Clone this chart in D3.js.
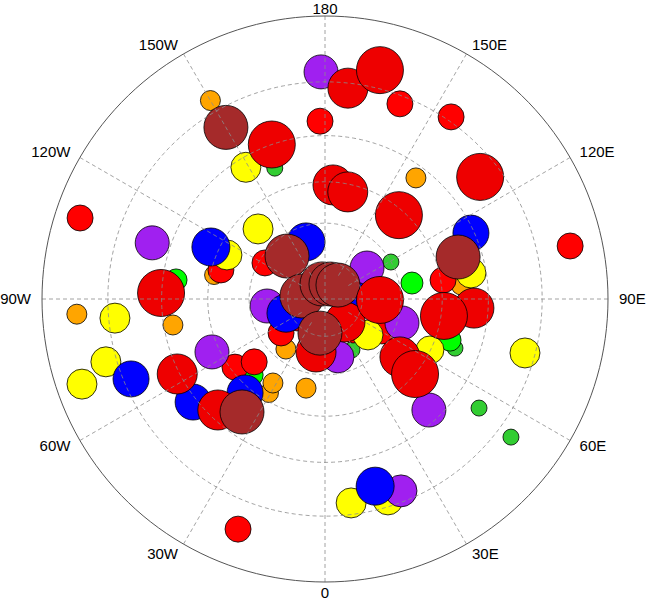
<!DOCTYPE html>
<html>
<head>
<meta charset="utf-8">
<script src="https://cdn.jsdelivr.net/npm/d3@7"></script>
<style>
  html, body { margin: 0; padding: 0; background: #fff; }
  svg { display: block; }
  text { font-family: "Liberation Sans", Arial, Helvetica, sans-serif; }
</style>
</head>
<body>
<svg id="chart" width="646" height="600"></svg>
<script>
// ---- data ----
const lat = [12.5, 12, 20, 30, 33, 37.3, 25.7, 46, 47.7, 5.3,
             24.6, 42.2, 48.4, 48.2, 46.3, 52.2, 66, 67.1, 62.2, 34.1,
             29.8, 16.3, 10.5, 17.1, 13.9, 33.7, 20.2, 46.9, 6.9, 31,
             37.5, 34.7, 44.2, 60.1, 55.3, 69.1, 38.4, 68, 44, 34.4,
             58.2, 67.6, 64, 67, 53, 45, 45.2, 40.1, 37.7, 33.5,
             17.6, 22.6, 11.4, 21.2, 17.8, 18, 16.7, 7.4, 16.6, 32.8,
             12.3, 16.9, 5.4, 42.4, 29.3, 28.8, 32.8, 37.3, 42.9, 46.5,
             53, 49.2, 51.5, 47.7, 54.3, 64.7, 67.8, 8, 66.7, 73.3,
             80.6, 83.8, 83.5, 82.3, 76.1, 76.4, 68.5, 77.7, 73.2, 80.4,
             77.9, 66.3];
const lon = [-179, -150, -150, -161, -149, -159, -178.4, 176, 168, -108.3,
             -108, -114.5, -114.2, -105.6, -102.2, -136.3, -161.6, -138.5, -121, -97.3,
             -92.1, 173.8, 166.5, 159, 145.3, 143.1, 128.2, 138.6, 102.2, 114.3,
             107.5, 100.1, 99.1, 119.3, 100.4, 126.4, 95.9, 89, 81.9, 86.5,
             72.7, 50.1, 60.7, 27.9, 52.3, 50.2, 64.1, 71.8, 69.3, 43.1,
             74.9, 54.7, 53.4, 15.0, 21.6, 7.3, 17.4, -86.5, -84.8, -80.3,
             -74, -67.6, -70.7, -64.9, -63.1, -52, -44, -36.3, -40.4, -52.9,
             -48.4, -43.8, -31.8, -30.8, -12, -38, -52.3, -20.7, -83.1, -70,
             -97.4, -168.7, 158.2, 137.1, -8.4, -55.8, -9.6, 41, 42.1, 75.4,
             88, 12.6];
const mag = [5.8, 4.4, 6.8, 7.1, 5.4, 4.0, 5.0, 6.4, 6.4, 5.0,
             5.8, 6.2, 5.4, 5.0, 4.3, 5.4, 6.2, 6.8, 5.0, 4.6,
             7.1, 6.4, 7.1, 5.0, 5.0, 4.4, 7.1, 7.1, 5.0, 6.0,
             6.8, 5.4, 5.0, 4.0, 4.6, 5.8, 4.4, 7.1, 7.1, 6.4,
             5.8, 5.4, 5.0, 4.0, 6.4, 7.1, 5.2, 4.6, 4.0, 5.8,
             5.4, 4.0, 4.0, 6.2, 5.6, 5.4, 5.4, 4.4, 5.4, 4.4,
             5.4, 6.0, 5.4, 5.8, 6.4, 6.0, 6.4, 6.8, 6.0, 5.0,
             5.0, 4.6, 4.4, 4.3, 4.4, 4.4, 5.0, 5.0, 5.8, 6.2,
             6.8, 6.8, 6.8, 6.8, 6.8, 5.0, 6.4, 6.4, 5.0, 5.0,
             6.0, 5.6];
const cat = ["purple", "orange", "brown", "red2", "yellow", "limegreen", "red", "red2", "red2", "red",
             "purple", "blue", "yellow", "red", "orange", "yellow", "blue", "brown", "red", "green",
             "red2", "red2", "red2", "red", "red", "orange", "red2", "red2", "red", "blue",
             "brown", "yellow", "red", "limegreen", "green", "purple", "orange", "red2", "red2", "red2",
             "purple", "yellow", "red", "limegreen", "red2", "red2", "yellow", "green", "limegreen", "purple",
             "yellow", "limegreen", "limegreen", "blue", "purple", "yellow", "yellow", "orange", "yellow", "orange",
             "yellow", "blue", "yellow", "purple", "red2", "blue", "red2", "brown", "blue", "red",
             "red", "green", "orange", "orange", "orange", "orange", "red", "red", "purple", "blue",
             "brown", "brown", "brown", "brown", "brown", "red", "red2", "red2", "red", "red",
             "blue", "purple"];
const categories = ["limegreen", "orange", "green", "red", "yellow", "purple", "blue", "red2", "brown"];
const categoryColors = ["#32cd32", "#ffa500", "#00ff00", "#ff0000", "#ffff00", "#a020f0", "#0000ff", "#ee0000", "#a52a2a"];
const latCircles = [15, 30, 45, 60, 75];
const lonLines = [0, 30, 60, 90, 120, 150, 180, 210, 240, 270, 300, 330];
const lonLabels = ["0", "30E", "60E", "90E", "120E", "150E", "180", "150W", "120W", "90W", "60W", "30W"];

// ---- drawing ----
const svg = d3.select("#chart");
const cx = 325, cy = 299, R = 283;

const projection = d3.geoStereographic()
  .rotate([0, -90])
  .scale(R)
  .translate([cx, cy])
  .clipAngle(90)
  .precision(0.1);
const path = d3.geoPath(projection);

const rScale = d3.scaleLinear().domain([4, 7]).range([8, 23]);
const color = d3.scaleOrdinal().domain(categories).range(categoryColors);

const points = lat.map((d, i) => ({lat: d, lon: lon[i], mag: mag[i], cat: cat[i], i}));
const sorted = points.slice().sort((a, b) => (a.mag - b.mag) || (a.i - b.i));

// markers
svg.append("g")
  .selectAll("circle")
  .data(sorted)
  .join("circle")
  .attr("cx", d => projection([d.lon, d.lat])[0])
  .attr("cy", d => projection([d.lon, d.lat])[1])
  .attr("r", d => rScale(d.mag))
  .attr("fill", d => color(d.cat))
  .attr("stroke", "#000")
  .attr("stroke-width", 0.8);

// grid (drawn over markers)
const grid = svg.append("g")
  .attr("fill", "none")
  .attr("stroke", "#8c8c8c")
  .attr("stroke-width", 0.8)
  .attr("stroke-dasharray", "4,3");

latCircles.forEach(l => {
  grid.append("path")
    .attr("d", path(d3.geoCircle().center([0, 90]).radius(90 - l).precision(1)()));
});
lonLines.forEach(l => {
  const top = (l % 90 === 0) ? 90 : 80;
  grid.append("path")
    .attr("d", path({type: "LineString", coordinates: [[l, 0.001], [l, top]]}));
});

// outer boundary
svg.append("path")
  .attr("d", path({type: "Sphere"}))
  .attr("fill", "none")
  .attr("stroke", "#555")
  .attr("stroke-width", 1);

// longitude labels
const c0 = projection([0, 90]);
lonLines.forEach((l, i) => {
  const p = projection([l, 0.001]);
  const dx = p[0] - c0[0], dy = p[1] - c0[1];
  const len = Math.hypot(dx, dy);
  const ux = dx / len, uy = dy / len;
  const x = c0[0] + ux * (len + 11);
  const y = Math.max(8.8, c0[1] + uy * (len + 11));
  svg.append("text")
    .attr("x", x)
    .attr("y", y)
    .attr("dy", "0.36em")
    .attr("text-anchor", ux > 0.1 ? "start" : (ux < -0.1 ? "end" : "middle"))
    .attr("font-size", 15)
    .attr("fill", "#000")
    .text(lonLabels[i]);
});
</script>
</body>
</html>
